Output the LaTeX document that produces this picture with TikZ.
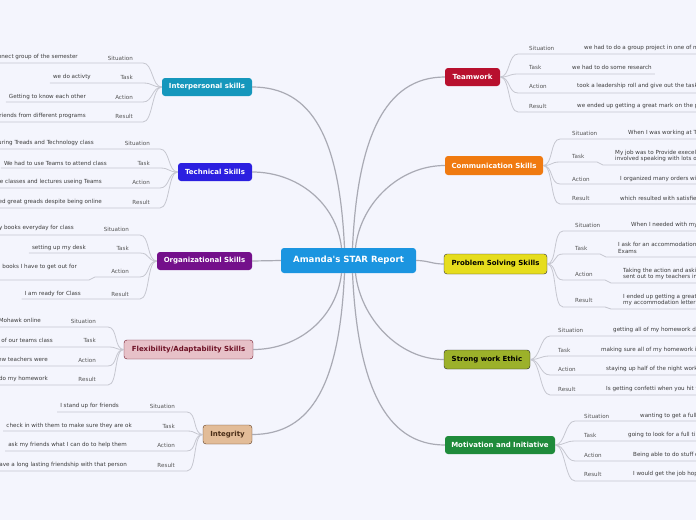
\documentclass[tikz,border=0pt]{standalone}
\usepackage{fontspec}
\setmainfont{DejaVu Sans}
\newfontfamily\plainsans{DejaVu Sans}
\definecolor{bgcol}{HTML}{F4F5FD}
\definecolor{starblue}{HTML}{1B95E0}
\definecolor{teamred}{HTML}{B8102E}
\definecolor{commorange}{HTML}{F07A10}
\definecolor{probyellow}{HTML}{E6DD1D}
\definecolor{ethicgreen}{HTML}{9CB12A}
\definecolor{motivgreen}{HTML}{1F8B3B}
\definecolor{interteal}{HTML}{1597BC}
\definecolor{techblue}{HTML}{2B1FE0}
\definecolor{orgpurple}{HTML}{74108B}
\definecolor{flexpink}{HTML}{E7C1C8}
\definecolor{flexdark}{HTML}{6E1226}
\definecolor{integtan}{HTML}{E2BC98}
\definecolor{integdark}{HTML}{5C3A1E}
\definecolor{linecol}{HTML}{A9AAB4}
\definecolor{leafcol}{HTML}{C6C7D0}
\definecolor{labcol}{HTML}{555555}
\definecolor{txtcol}{HTML}{3C3C3C}
\begin{document}
\begin{tikzpicture}[x=1pt, y=-1pt,
    topic/.style={rounded corners=3pt, inner sep=0pt, font=\bfseries\fontsize{7}{8}\selectfont, text=white},
    leaf/.style={inner sep=0pt, font=\fontsize{5.6}{6.3}\selectfont, text=txtcol, align=left},
    starlab/.style={leaf, text=labcol},
    mainline/.style={draw=linecol, line width=1.2pt},
    leafline/.style={draw=leafcol, line width=0.8pt}]
  \fill[bgcol] (0,0) rectangle (696,520);
  \useasboundingbox (0,0) rectangle (696,520);
  % centre and topics
  \node[topic, fill=starblue, minimum width=135pt, minimum height=25pt, font=\plainsans\bfseries\fontsize{8.6}{10}\selectfont] (star) at (348.5,260.5) {Amanda's STAR Report};
  \node[topic, fill=teamred, minimum width=55pt, minimum height=18pt] (team) at (472.5,77) {Teamwork};
  \node[topic, fill=commorange, minimum width=98pt, minimum height=19pt] (comm) at (494,165.5) {Communication Skills};
  \node[topic, fill=probyellow, draw=black!80, text=black, minimum width=103pt, minimum height=20pt] (prob) at (495.5,264) {Problem Solving Skills};
  \node[topic, fill=ethicgreen, draw=black!85, text=black, minimum width=86pt, minimum height=19pt] (ethic) at (487,359.5) {Strong work Ethic};
  \node[topic, fill=motivgreen, minimum width=110pt, minimum height=18pt] (motiv) at (500,445) {Motivation and Initiative};
  \node[topic, fill=interteal, minimum width=90pt, minimum height=18pt] (inter) at (207,87) {Interpersonal skills};
  \node[topic, fill=techblue, minimum width=74pt, minimum height=18pt] (tech) at (215,172) {Technical Skills};
  \node[topic, fill=orgpurple, minimum width=95pt, minimum height=18pt] (org) at (204.5,261) {Organizational Skills};
  \node[topic, fill=flexpink, draw=flexdark, text=flexdark, minimum width=129pt, minimum height=19pt] (flex) at (188.5,349.5) {Flexibility/Adaptability Skills};
  \node[topic, fill=integtan, draw=integdark, text=integdark!80!black, minimum width=49pt, minimum height=19pt] (integ) at (227.5,434.5) {Integrity};
  % main branches
  \draw[mainline] ([xshift=4pt]star.north) .. controls +(5,-110) and +(-60,0) .. (team.west);
  \draw[mainline] ([xshift=7pt]star.north) .. controls +(5,-45) and +(-45,0) .. (comm.west);
  \draw[mainline] (star.east) .. controls +(12,0) and +(-12,0) .. (prob.west);
  \draw[mainline] ([xshift=7pt]star.south) .. controls +(5,45) and +(-45,0) .. (ethic.west);
  \draw[mainline] ([xshift=4pt]star.south) .. controls +(5,110) and +(-60,0) .. (motiv.west);
  \draw[mainline] ([xshift=-4pt]star.north) .. controls +(-5,-110) and +(60,0) .. (inter.east);
  \draw[mainline] ([xshift=-7pt]star.north) .. controls +(-5,-45) and +(45,0) .. (tech.east);
  \draw[mainline] (star.west) -- (org.east);
  \draw[mainline] ([xshift=-7pt]star.south) .. controls +(-5,45) and +(45,0) .. (flex.east);
  \draw[mainline] ([xshift=-4pt]star.south) .. controls +(-5,110) and +(60,0) .. (integ.east);
  % right leaves
  \foreach \tp/\lx/\ux/\lab/\ly/\uy/\sy/\tx/\txt in {
      team/529/518/Situation/48/54/54/584/{we had to do a group project in one of m},
      team/529/518/Task/67/74/74/572/{we had to do some research},
      team/529/518/Action/86/93/93/577/{took a leadership roll and give out the task},
      team/529/518/Result/106/112/112/577/{we ended up getting a great mark on the p},
      comm/572/560/Situation/133/139/139/628/{When I was working at T},
      comm/572/560/Task/156/162/165/615/{My job was to Provide execell\\involved speaking with lots of},
      comm/572/560/Action/179/184/184/620/{I organized many orders wi},
      comm/572/560/Result/198/204/204/620/{which resulted with satisfie},
      prob/575/563/Situation/225/231/231/631/{When I needed with my},
      prob/575/563/Task/248/254/257/618/{I ask for an accommodation\\Exams},
      prob/575/563/Action/274/280/283/623/{Taking the action and aski\\sent out to my teachers in},
      prob/575/563/Result/300/307/309/623/{I ended up getting a great\\my accommodation letter},
      ethic/558/550/Situation/330/336/336/613/{getting all of my homework d},
      ethic/558/550/Task/350/356/356/601/{making sure all of my homework i},
      ethic/558/550/Action/369/375/375/606/{staying up half of the night work},
      ethic/558/550/Result/389/395/395/606/{Is getting confetti when you hit t},
      motiv/584/575/Situation/416/421/421/640/{wanting to get a full},
      motiv/584/575/Task/435/441/441/628/{going to look for a full ti},
      motiv/584/575/Action/455/461/461/633/{Being able to do stuff o},
      motiv/584/575/Result/474/481/481/633/{I would get the job hop}}{
    \node[starlab, anchor=west] (\tp-\lab) at (\lx,\ly) {\lab};
    \node[leaf, anchor=west] (\tp-\lab-t) at (\tx,\ly) {\txt};
    \coordinate (\tp-\lab-u) at (\ux,\uy);
    \coordinate (\tp-\lab-v) at (0,\sy);
    \draw[leafline] (\tp.east) .. controls +(10,0) and +(-10,0) .. (\tp-\lab-u)
      -- ([xshift=-18pt]\tp-\lab-t.west |- \tp-\lab-u) .. controls +(3,0) and +(-3,0) .. ([xshift=-12pt]\tp-\lab-t.west |- \tp-\lab-v)
      -- ([xshift=3pt]\tp-\lab-t.east |- \tp-\lab-v);
  }
  % left leaves
  \foreach \tp/\lx/\ux/\lab/\ly/\ty/\uy/\sy/\tx/\txt in {
      inter/133/143/Situation/58/57/63/63/78/{nnect group of the semester},
      inter/133/143/Task/77/77/83/83/91/{we do activty},
      inter/133/143/Action/97/97/102/102/86/{Getting to know each other},
      inter/133/143/Result/116/116/122/122/86/{riends from different programs},
      tech/150/160/Situation/143/143/149/149/94/{uring Treads and Technology class},
      tech/150/160/Task/163/163/168/168/107/{We had to use Teams to attend class},
      tech/150/160/Action/182/182/188/188/102/{e classes and lectures useing Teams},
      tech/150/160/Result/202/202/208/208/102/{ed great greads despite being online},
      org/129/140/Situation/229/228/235/235/74/{y books everyday for class},
      org/129/140/Task/248/248/253/253/86/{setting up my desk},
      org/129/140/Action/271/267/277/280/77/{books I have to get out for},
      org/129/140/Result/294/294/299/299/81/{I am ready for Class},
      flex/96/108/Situation/321/320/327/327/41/{Mohawk online},
      flex/96/108/Task/340/340/347/347/53/{of our teams class},
      flex/96/108/Action/360/359/366/366/48/{ew teachers were},
      flex/96/108/Result/379/379/385/385/48/{do my homework},
      integ/175/187/Situation/406/406/412/412/119/{I stand up for friends},
      integ/175/187/Task/426/426/431/431/132/{check in with them to make sure they are ok},
      integ/175/187/Action/445/445/451/451/127/{ask my friends what I can do to help them},
      integ/175/187/Result/465/465/471/471/127/{ave a long lasting friendship with that person}}{
    \node[starlab, anchor=east] (\tp-\lab) at (\lx,\ly) {\lab};
    \node[leaf, anchor=east] (\tp-\lab-t) at (\tx,\ty) {\txt};
    \coordinate (\tp-\lab-u) at (\ux,\uy);
    \coordinate (\tp-\lab-v) at (0,\sy);
    \draw[leafline] (\tp.west) .. controls +(-10,0) and +(10,0) .. (\tp-\lab-u)
      -- ([xshift=18pt]\tp-\lab-t.east |- \tp-\lab-u) .. controls +(-3,0) and +(3,0) .. ([xshift=12pt]\tp-\lab-t.east |- \tp-\lab-v)
      -- ([xshift=-3pt]\tp-\lab-t.west |- \tp-\lab-v);
  }
\end{tikzpicture}
\end{document}
